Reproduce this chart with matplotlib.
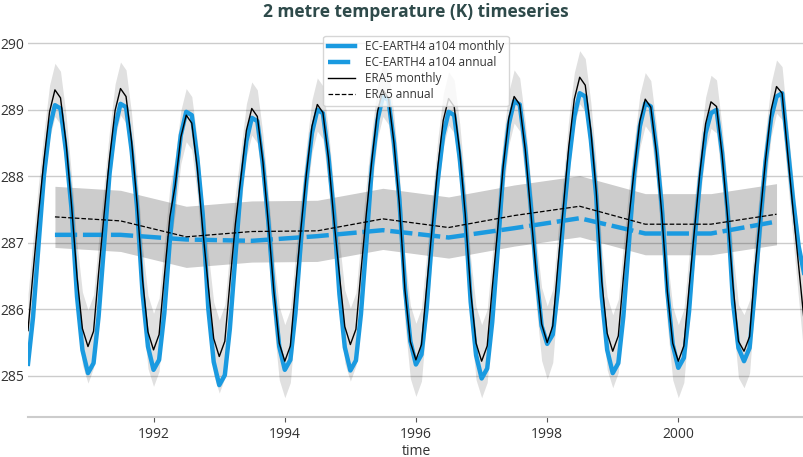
import numpy as np
import matplotlib
matplotlib.use('Agg')
import matplotlib.pyplot as plt
import matplotlib.dates as mdates
import pandas as pd

plt.rcParams['font.family'] = ['Open Sans', 'DejaVu Sans']

# MONTHLY TIME AXIS (FEB 1990 - DEC 2001) AND ANNUAL MID-YEAR STAMPS
months = pd.date_range('1990-02-01', '2001-12-01', freq='MS')
years = list(range(1990, 2002))
annual_time = [pd.Timestamp(f'{y}-07-01') for y in years]

# ERA5 MONTHLY 2M TEMPERATURE (K)
era5_monthly = [
    285.68, 286.55, 287.45, 288.25, 288.97, 289.30, 289.18, 288.50, 287.58, 286.49, 285.71,  # 1990 (from Feb)
    285.44, 285.67, 286.54, 287.44, 288.27, 288.99, 289.32, 289.20, 288.52, 287.60, 286.44, 285.66,  # 1991
    285.39, 285.62, 286.49, 287.39, 287.87, 288.59, 288.92, 288.80, 288.12, 287.20, 286.34, 285.56,  # 1992
    285.29, 285.52, 286.39, 287.29, 287.97, 288.69, 289.02, 288.90, 288.22, 287.30, 286.27, 285.49,  # 1993
    285.22, 285.45, 286.32, 287.22, 288.03, 288.75, 289.08, 288.96, 288.28, 287.36, 286.52, 285.74,  # 1994
    285.47, 285.70, 286.57, 287.47, 288.25, 288.97, 289.30, 289.18, 288.50, 287.58, 286.29, 285.51,  # 1995
    285.24, 285.47, 286.34, 287.24, 288.12, 288.84, 289.17, 289.05, 288.37, 287.45, 286.27, 285.49,  # 1996
    285.22, 285.45, 286.32, 287.22, 288.15, 288.87, 289.20, 289.08, 288.40, 287.48, 286.55, 285.78,  # 1997
    285.50, 285.75, 286.64, 287.54, 288.44, 289.16, 289.49, 289.37, 288.69, 287.77, 286.42, 285.64,  # 1998
    285.37, 285.60, 286.47, 287.37, 288.11, 288.83, 289.16, 289.04, 288.36, 287.44, 286.27, 285.49,  # 1999
    285.22, 285.45, 286.32, 287.22, 288.07, 288.79, 289.12, 289.05, 288.32, 287.40, 286.35, 285.52,  # 2000
    285.37, 285.59, 286.55, 287.40, 288.25, 289.00, 289.35, 289.25, 288.35, 287.50, 286.65, 285.84,  # 2001
]

# EC-EARTH4 a104 MONTHLY 2M TEMPERATURE (K)
ece_monthly = [
    285.18, 285.88, 286.98, 288.02, 288.72, 289.07, 289.02, 288.37, 287.52, 286.19, 285.39,  # 1990 (from Feb)
    285.04, 285.19, 285.89, 286.99, 288.04, 288.74, 289.09, 289.04, 288.39, 287.54, 286.24, 285.44,  # 1991
    285.09, 285.24, 285.94, 287.04, 287.92, 288.62, 288.97, 288.92, 288.27, 287.42, 286.01, 285.21,  # 1992
    284.86, 285.01, 285.71, 286.81, 287.83, 288.53, 288.88, 288.83, 288.18, 287.33, 286.24, 285.44,  # 1993
    285.09, 285.24, 285.94, 287.04, 287.95, 288.65, 289.00, 288.95, 288.30, 287.45, 286.23, 285.43,  # 1994
    285.08, 285.23, 285.93, 287.03, 288.15, 288.85, 289.20, 289.15, 288.50, 287.65, 286.32, 285.52,  # 1995
    285.17, 285.32, 286.02, 287.12, 287.92, 288.62, 288.97, 288.92, 288.27, 287.42, 286.11, 285.31,  # 1996
    284.96, 285.11, 285.81, 286.91, 288.08, 288.78, 289.13, 289.08, 288.43, 287.58, 286.55, 285.75,  # 1997
    285.48, 285.62, 286.28, 287.38, 288.20, 288.90, 289.25, 289.20, 288.55, 287.70, 286.19, 285.39,  # 1998
    285.04, 285.19, 285.89, 286.99, 288.05, 288.75, 289.10, 289.05, 288.40, 287.55, 286.27, 285.47,  # 1999
    285.12, 285.27, 285.97, 287.07, 287.95, 288.65, 288.95, 289.00, 288.35, 287.50, 286.10, 285.42,  # 2000
    285.22, 285.42, 286.24, 287.30, 288.22, 288.88, 289.20, 289.25, 288.45, 287.65, 286.95, 286.55,  # 2001
]

# ANNUAL MEANS (K)
era5_annual = [287.39, 287.33, 287.09, 287.17, 287.18, 287.36, 287.23, 287.41, 287.55, 287.28, 287.28, 287.43]
ece_annual = [287.12, 287.12, 287.05, 287.03, 287.10, 287.19, 287.08, 287.22, 287.37, 287.14, 287.14, 287.32]

# SPREAD OF THE GREY ENVELOPES (K) - PER CALENDAR MONTH JAN..DEC, AND ANNUAL
month_spread = [0.55, 0.55, 0.50, 0.45, 0.42, 0.40, 0.40, 0.40, 0.42, 0.45, 0.50, 0.55]
annual_spread = 0.46

era5_m = np.array(era5_monthly)
spread_m = np.array([month_spread[m - 1] for m in months.month])
era5_a = np.array(era5_annual)

blue = '#1a9ae0'
text_col = '#333333'

fig = plt.figure(figsize=(8.04, 4.57), dpi=100)
ax = fig.add_axes([28 / 804, 1 - 416.7 / 457, 776 / 804, (416.7 - 32.7) / 457])

# ENVELOPES
ax.fill_between(months, era5_m - spread_m, era5_m + spread_m, color='k', alpha=0.12, lw=0, zorder=1)
ax.fill_between(annual_time, era5_a - annual_spread, era5_a + annual_spread, color='k', alpha=0.2, lw=0, zorder=1.5)

# LINES
ax.plot(months, ece_monthly, color=blue, lw=3.2, label='EC-EARTH4 a104 monthly', zorder=3)
ax.plot(annual_time, ece_annual, color=blue, lw=3.2, dashes=(5, 1.3), label='EC-EARTH4 a104 annual', zorder=3)
ax.plot(months, era5_monthly, color='k', lw=1, label='ERA5 monthly', zorder=4)
ax.plot(annual_time, era5_annual, color='k', lw=0.9, ls='--', label='ERA5 annual', zorder=4)

ax.set_xlim(months[0], months[-1])
ax.set_ylim(284.385, 290.16)
ax.set_yticks([285, 286, 287, 288, 289, 290])
ax.xaxis.set_major_locator(mdates.YearLocator(2))
ax.xaxis.set_major_formatter(mdates.DateFormatter('%Y'))

ax.yaxis.grid(True, color='#cccccc', lw=1)
ax.set_axisbelow(True)
for s in ['top', 'right', 'left']:
    ax.spines[s].set_visible(False)
ax.spines['bottom'].set_color('#cccccc')
ax.spines['bottom'].set_linewidth(1.5)
ax.tick_params(axis='y', length=0, labelsize=10, labelcolor=text_col, pad=3)
ax.tick_params(axis='x', length=3.5, color='#555555', labelsize=10, labelcolor=text_col, pad=4)

ax.set_xlabel('time', fontsize=10, color=text_col, labelpad=1)
ax.set_title('2 metre temperature (K) timeseries', fontsize=12.5, fontweight='bold', color='#2e4a4a', pad=11)

leg = ax.legend(loc='upper center', fontsize=8.5, handlelength=2.3, labelspacing=0.25,
                borderaxespad=0.25, framealpha=0.8, edgecolor='#cccccc')
for t in leg.get_texts():
    t.set_color(text_col)

fig.savefig('out.png', dpi=100)
